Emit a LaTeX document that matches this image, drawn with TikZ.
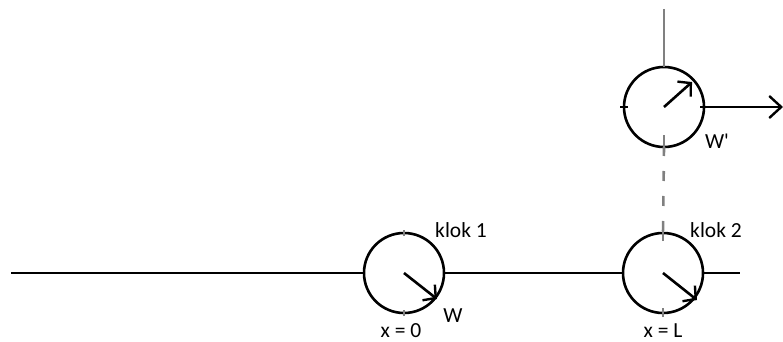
\documentclass[tikz,border=0pt]{standalone}
\usepackage{fontspec}
\setmainfont{Carlito}
\usetikzlibrary{arrows.meta}
\definecolor{tickgray}{RGB}{128,128,128}
\tikzset{
  clock/.style={circle, draw=black, line width=2.6pt, minimum size=80pt, inner sep=0pt, outer sep=0pt},
  wire/.style={black, line width=2.6pt},
  hand/.style={black, line width=2.6pt, -{Straight Barb[length=9pt,width=20pt,line width=2.4pt]}},
  gline/.style={tickgray, line width=2.6pt},
  lbl/.style={font=\fontsize{21.5}{24}\selectfont, inner sep=0pt, text=black}
}
\begin{document}
\begin{tikzpicture}[x=1pt,y=-1pt]
\useasboundingbox (0,0) rectangle (783,342);
% clocks
\node[clock] (c1) at (404,273) {};
\node[clock] (c2) at (663,273) {};
\node[clock] (c3) at (664,107) {};
% wire
\coordinate (wl) at (11,273);
\coordinate (wr) at (740,273);
\draw[wire] (wl) -- (c1.west);
\draw[wire] (c1.east) -- (c2.west);
\draw[wire] (c2.east) -- (wr);
% gray ticks
\draw[gline] ([yshift=-3pt]c1.north) -- ([yshift=3pt]c1.north);
\draw[gline] ([yshift=-3pt]c1.south) -- ([yshift=3pt]c1.south);
\draw[gline] ([yshift=-8pt]c2.north) -- ([yshift=4pt]c2.north);
\draw[gline] ([yshift=-4pt]c2.south) -- ([yshift=5pt]c2.south);
\coordinate (gtop) at (664,9);
\draw[gline] (gtop) -- (c3.north);
\draw[gline] ([yshift=-5pt]c3.south) -- ([yshift=12pt]c3.south);
\draw[gline, dash pattern=on 10pt off 15pt, dash phase=-24pt] (c3.south) -- (c2.north);
% black tick on top clock
\draw[wire] ([xshift=-4pt]c3.west) -- ([xshift=4pt]c3.west);
% hands
\coordinate (h1) at (437,299);
\coordinate (h2) at (697,300);
\coordinate (h3) at (692,82);
\draw[hand] (c1.center) -- (h1);
\draw[hand] (c2.center) -- (h2);
\draw[hand] (c3.center) -- (h3);
% horizontal arrow
\coordinate (ar) at (783,107);
\draw[hand, -{Straight Barb[length=12pt,width=22pt,line width=2.4pt]}] ([xshift=-4pt]c3.east) -- (ar);
% labels
\node[lbl, anchor=base] (k1) at (461,237) {klok 1};
\node[lbl, anchor=base] (k2) at (716,237) {klok 2};
\node[lbl, anchor=base] (w1) at (453,322) {W};
\node[lbl, anchor=base] (w3) at (717,148) {W\textquotesingle};
\node[lbl, anchor=base] (x0) at (401,337) {x = 0};
\node[lbl, anchor=base] (xl) at (663,337) {x = L};
\end{tikzpicture}
\end{document}
